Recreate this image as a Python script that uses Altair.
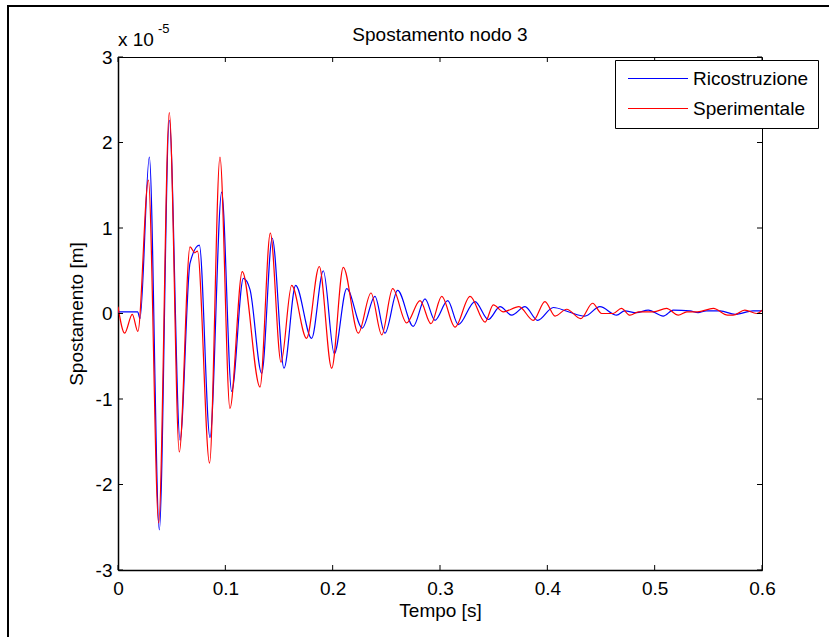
import altair as alt
import pandas as pd

# ---- data (displacement in units of 1e-5 m) ----
t_ric = [0.000, 0.0183, 0.0205, 0.0292, 0.0385, 0.0478, 0.0578, 0.0671, 0.0758, 0.0857,
         0.0966, 0.1059, 0.1168, 0.1230, 0.1339, 0.1437, 0.1547, 0.1655, 0.1804, 0.1913,
         0.2015, 0.2131, 0.2276, 0.2394, 0.2487, 0.2605, 0.2751, 0.2860, 0.2953, 0.3072,
         0.3171, 0.3326, 0.3450, 0.3559, 0.3668, 0.3792, 0.3910, 0.4056, 0.4196, 0.4350,
         0.4490, 0.4646, 0.4720, 0.4831, 0.4940, 0.5080, 0.5173, 0.5330, 0.5404, 0.5480,
         0.5610, 0.5750, 0.5916, 0.6000]
v_ric = [0.02, 0.02, -0.06, 1.83, -2.53, 2.26, -1.48, 0.59, 0.80, -1.45,
         1.42, -0.91, 0.41, 0.28, -0.70, 0.88, -0.64, 0.33, -0.29, 0.50,
         -0.47, 0.29, -0.17, 0.20, -0.23, 0.27, -0.15, 0.17, -0.08, 0.15,
         -0.13, 0.14, -0.07, 0.08, -0.02, 0.08, -0.08, 0.07, 0.02, -0.03,
         0.08, -0.02, 0.03, 0.01, 0.04, -0.03, 0.04, 0.03, 0.01, 0.03,
         0.03, -0.01, 0.03, 0.03]

t_sper = [0.000, 0.0062, 0.0133, 0.0185, 0.0283, 0.0379, 0.0478, 0.0571, 0.0671, 0.0715,
          0.0740, 0.0853, 0.0950, 0.1043, 0.1158, 0.1323, 0.1419, 0.1519, 0.1618, 0.1757,
          0.1875, 0.1991, 0.2099, 0.2239, 0.2357, 0.2457, 0.2559, 0.2689, 0.2814, 0.2916,
          0.3016, 0.3140, 0.3280, 0.3420, 0.3497, 0.3590, 0.3736, 0.3869, 0.3978, 0.4072,
          0.4180, 0.4311, 0.4422, 0.4506, 0.4614, 0.4690, 0.4770, 0.4850, 0.4990, 0.5110,
          0.5220, 0.5300, 0.5400, 0.5547, 0.5680, 0.5730, 0.5840, 0.5950, 0.6000]
v_sper = [0.08, -0.23, -0.01, -0.21, 1.56, -2.45, 2.35, -1.62, 0.78, 0.71,
          0.73, -1.75, 1.83, -1.11, 0.49, -0.86, 0.94, -0.57, 0.33, -0.29,
          0.55, -0.64, 0.54, -0.23, 0.24, -0.25, 0.29, -0.11, 0.15, -0.12,
          0.20, -0.16, 0.20, -0.10, 0.10, 0.02, 0.08, -0.08, 0.14, -0.03,
          0.05, -0.06, 0.12, 0.00, 0.00, 0.06, -0.02, 0.02, 0.02, 0.06,
          -0.02, 0.02, 0.02, 0.06, -0.02, -0.02, 0.04, 0.00, 0.04]

series_names = ["Ricostruzione", "Sperimentale"]
series_colors = ["#0000ff", "#ff0000"]
x_ticks = [0, 0.1, 0.2, 0.3, 0.4, 0.5, 0.6]
y_ticks = [-3, -2, -1, 0, 1, 2, 3]
chart_title = "Spostamento nodo 3"

FONT = "Liberation Sans"
W, H = 644, 513
TICK = 5

df = pd.concat([
    pd.DataFrame({"t": t_ric, "v": v_ric, "serie": series_names[0]}),
    pd.DataFrame({"t": t_sper, "v": v_sper, "serie": series_names[1]}),
], ignore_index=True)

xs = alt.Scale(domain=[0, 0.6], nice=False, zero=False)
ys = alt.Scale(domain=[-3, 3], nice=False, zero=False)

lines = alt.Chart(df).mark_line(strokeWidth=1.2, interpolate="monotone", clip=True).encode(
    x=alt.X("t:Q", scale=xs, axis=alt.Axis(
        values=x_ticks, format=".1~f", title="Tempo [s]", ticks=False, tickSize=0,
        labelPadding=9, titlePadding=3, grid=False, labelFlush=False, labelOverlap=False)),
    y=alt.Y("v:Q", scale=ys, axis=alt.Axis(
        values=y_ticks, labelExpr="'' + datum.value", title="Spostamento [m]",
        ticks=False, tickSize=0, labelPadding=6, titlePadding=9, grid=False,
        labelFlush=False, labelOverlap=False)),
    color=alt.Color("serie:N", scale=alt.Scale(domain=series_names, range=series_colors),
                    legend=alt.Legend(
                        title=None, orient="none", legendX=497, legendY=3, direction="vertical",
                        fillColor="white", strokeColor="black", padding=9, rowPadding=10,
                        symbolType="M-5,0H5", symbolSize=144, symbolOffset=24.5,
                        symbolStrokeWidth=1, labelOffset=25.5, labelFont=FONT,
                        labelFontSize=19, labelColor="black", labelLimit=0)),
)

xt = pd.DataFrame({"t": x_ticks})
yt = pd.DataFrame({"v": y_ticks})

x_bot = alt.Chart(xt).mark_rule(color="black", strokeWidth=1).encode(
    x=alt.X("t:Q", scale=xs), y=alt.value(H), y2=alt.value(H - TICK))
x_top = alt.Chart(xt).mark_rule(color="black", strokeWidth=1).encode(
    x=alt.X("t:Q", scale=xs), y=alt.value(0), y2=alt.value(TICK))
y_left = alt.Chart(yt).mark_rule(color="black", strokeWidth=1).encode(
    y=alt.Y("v:Q", scale=ys), x=alt.value(0), x2=alt.value(TICK))
y_right = alt.Chart(yt).mark_rule(color="black", strokeWidth=1).encode(
    y=alt.Y("v:Q", scale=ys), x=alt.value(W - TICK), x2=alt.value(W))

one = pd.DataFrame({"a": [0]})
border_left = alt.Chart(one).mark_rule(color="black", strokeWidth=2).encode(
    x=alt.value(-110), y=alt.value(-51), y2=alt.value(600))
border_top = alt.Chart(one).mark_rule(color="black", strokeWidth=2).encode(
    x=alt.value(-111), x2=alt.value(720), y=alt.value(-51))

title_txt = alt.Chart(one).mark_text(align="center", baseline="alphabetic", font=FONT,
                                     fontSize=19, color="black").encode(
    x=alt.value(W / 2), y=alt.value(-16), text=alt.value(chart_title))
exp_base = alt.Chart(one).mark_text(align="left", baseline="alphabetic", font=FONT,
                                    fontSize=19, color="black").encode(
    x=alt.value(0), y=alt.value(-11), text=alt.value("x 10"))
exp_sup = alt.Chart(one).mark_text(align="left", baseline="alphabetic", font=FONT,
                                   fontSize=13, color="black").encode(
    x=alt.value(40), y=alt.value(-24), text=alt.value("-5"))

chart = alt.layer(
    lines, x_bot, x_top, y_left, y_right, border_left, border_top,
    title_txt, exp_base, exp_sup
).properties(
    width=W, height=H,
    autosize=alt.AutoSizeParams(type="none"),
    padding={"left": 118, "top": 57, "right": 67, "bottom": 67},
    background="white",
).configure_view(
    stroke="black", strokeWidth=1
).configure_axis(
    labelFont=FONT, labelFontSize=19, labelColor="black",
    titleFont=FONT, titleFontSize=19, titleFontWeight="normal", titleColor="black",
    domainColor="black", domainWidth=1.5,
)

chart.save("out.html", embed_options={"renderer": "svg", "actions": False})
